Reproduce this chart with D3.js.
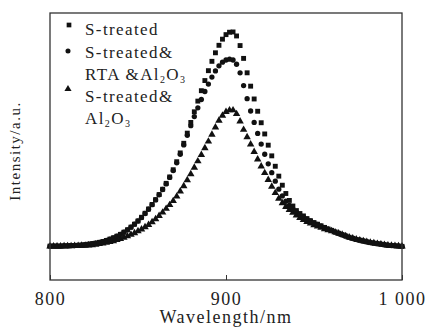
<!DOCTYPE html>
<html><head><meta charset="utf-8">
<script src="https://cdn.jsdelivr.net/npm/d3@7"></script>
<style>
html,body{margin:0;padding:0;background:#fff;}
svg text{font-family:"Liberation Serif","DejaVu Serif",serif;fill:#222;}
</style></head>
<body><svg id="c" width="428" height="329"></svg>
<script>
const wavelengths = [800,802,804,806,808,810,812,814,816,818,
820,822,824,826,828,830,832,834,836,838,
840,842,844,846,848,850,852,854,856,858,
860,862,864,866,868,870,872,874,876,878,
880,882,884,886,888,890,892,894,896,898,
900,902,904,906,908,910,912,914,916,918,
920,922,924,926,928,930,932,934,936,938,
940,942,944,946,948,950,952,954,956,958,
960,962,964,966,968,970,972,974,976,978,
980,982,984,986,988,990,992,994,996,998,1000];

const sTreated = [12.7,12.7,12.7,12.7,12.8,12.8,12.9,12.9,13.0,13.1,
13.2,13.4,13.6,13.8,14.1,14.4,14.8,15.3,15.8,16.4,
17.1,17.9,18.8,19.8,20.9,22.1,23.5,25.0,26.6,28.3,
30.1,32.0,34.0,36.2,38.6,41.3,44.3,47.6,51.2,55.0,
59.0,63.0,67.0,70.9,74.7,78.4,81.9,85.1,87.9,90.2,
91.9,92.8,92.9,91.4,87.8,83.0,77.6,72.6,67.8,63.2,
58.9,54.7,50.5,46.5,42.6,38.9,35.5,32.4,29.8,27.7,
26.0,24.9,24.0,23.0,22.2,21.5,20.9,20.3,19.7,19.1,
18.6,18.0,17.5,17.0,16.5,16.0,15.6,15.2,14.9,14.6,
14.3,14.0,13.8,13.6,13.4,13.2,13.0,12.9,12.8,12.7,12.6];

const sTreatedRtaAl2O3 = [12.7,12.7,12.7,12.7,12.8,12.8,12.9,12.9,13.0,13.1,
13.2,13.4,13.6,13.8,14.1,14.4,14.8,15.3,15.8,16.4,
17.1,17.9,18.8,19.8,20.9,22.1,23.4,24.9,26.5,28.2,
30.0,31.9,33.9,36.0,38.4,41.0,43.9,47.1,50.6,54.2,
57.8,61.2,64.5,67.6,70.6,73.4,76.0,78.3,80.2,81.6,
82.4,82.7,82.4,80.8,77.6,72.8,67.9,63.3,59.0,54.9,
50.9,47.1,43.5,40.2,37.0,34.0,31.5,29.5,27.9,26.6,
25.4,24.4,23.6,22.8,22.1,21.4,20.8,20.2,19.6,19.0,
18.5,17.9,17.4,16.9,16.4,16.0,15.6,15.2,14.9,14.6,
14.3,14.0,13.8,13.6,13.4,13.2,13.0,12.9,12.8,12.7,12.6];

const sTreatedAl2O3 = [12.6,12.6,12.6,12.6,12.7,12.7,12.7,12.8,12.8,12.9,
12.9,13.0,13.1,13.3,13.5,13.7,14.0,14.3,14.6,15.0,
15.4,15.9,16.4,17.0,17.6,18.3,19.0,19.8,20.7,21.7,
22.8,24.0,25.3,26.7,28.1,29.6,31.3,33.2,35.2,37.4,
39.7,42.1,44.5,46.9,49.4,51.9,54.5,57.2,59.7,61.6,
63.0,63.6,63.6,62.2,59.4,56.3,53.5,50.8,48.0,45.2,
42.6,40.1,37.5,35.0,32.6,30.5,28.8,27.4,26.3,25.2,
24.2,23.3,22.5,21.8,21.2,20.6,20.1,19.6,19.1,18.7,
18.3,17.9,17.5,17.0,16.5,16.0,15.6,15.2,14.9,14.6,
14.3,14.0,13.8,13.6,13.4,13.2,13.0,12.9,12.8,12.7,12.6];

const xTicks = [800, 900, 1000];
const xTickLabels = ["800", "900", "1 000"];
const xTitle = "Wavelength/nm";
const yTitle = "Intensity/a.u.";

const svg = d3.select("#c");
const L = 50, R = 402, T = 13, B = 280;
const x = d3.scaleLinear().domain([800, 1000]).range([L, R]);
const y = d3.scaleLinear().domain([0, 100]).range([B, T]);

const series = [
  {name: "S-treated", values: sTreated, sym: d3.symbolSquare, size: 24},
  {name: "S-treated&RTA&Al2O3", values: sTreatedRtaAl2O3, sym: d3.symbolCircle, size: 22},
  {name: "S-treated&Al2O3", values: sTreatedAl2O3, sym: d3.symbolTriangle, size: 24}
];

// data markers
series.slice().reverse().forEach(s => {
  const g = svg.append("g");
  g.selectAll("path").data(wavelengths.map((w, i) => [w, s.values[i]]))
    .enter().append("path")
    .attr("d", d3.symbol().type(s.sym).size(s.size)())
    .attr("transform", d => `translate(${x(d[0])},${y(d[1])})`)
    .attr("fill", "#111");
});

// frame
svg.append("rect").attr("x", L).attr("y", T).attr("width", R - L).attr("height", B - T)
  .attr("fill", "none").attr("stroke", "#333").attr("stroke-width", 1.3);

// x axis
const xAxis = d3.axisBottom(x).tickValues(xTicks).tickSize(-5)
  .tickFormat((d, i) => xTickLabels[i]).tickPadding(12);
const ax = svg.append("g").attr("transform", `translate(0,${B})`).call(xAxis);
ax.select(".domain").remove();
ax.selectAll(".tick line").attr("stroke", "#333");
ax.selectAll(".tick text").attr("font-size", 18).attr("letter-spacing", 1.5)
  .attr("font-family", "Liberation Serif").attr("fill", "#222");

svg.append("text").attr("x", 226).attr("y", 323).attr("text-anchor", "middle")
  .attr("font-size", 18).attr("letter-spacing", 1.5).text(xTitle);

svg.append("text").attr("transform", "translate(20,151) rotate(-90)")
  .attr("text-anchor", "middle").attr("font-size", 15).attr("letter-spacing", 1.5)
  .attr("fill", "#444").text(yTitle);

// legend
const legend = svg.append("g");
const legItems = [
  {sym: d3.symbolSquare, size: 22, mx: 69, my: 25, lines: [[{t: "S-treated"}]], ty: 35},
  {sym: d3.symbolCircle, size: 20, mx: 68, my: 51, lines: [[{t: "S-treated&"}], [{t: "RTA &Al"}, {t: "2", sub: true}, {t: "O"}, {t: "3", sub: true}]], ty: 58},
  {sym: d3.symbolTriangle, size: 22, mx: 68, my: 89, lines: [[{t: "S-treated&"}], [{t: "Al"}, {t: "2", sub: true}, {t: "O"}, {t: "3", sub: true}]], ty: 102}
];
legItems.forEach(it => {
  legend.append("path").attr("d", d3.symbol().type(it.sym).size(it.size)())
    .attr("transform", `translate(${it.mx},${it.my})`).attr("fill", "#111");
  it.lines.forEach((ln, li) => {
    const t = legend.append("text").attr("x", 85).attr("y", it.ty + li * 22)
      .attr("font-size", 17).attr("letter-spacing", 1.4);
    ln.forEach(p => {
      const ts = t.append("tspan").text(p.t);
      if (p.sub) ts.attr("font-size", 10).attr("dy", 3);
      else if (t.selectAll("tspan").size() > 1) ts.attr("dy", -3);
    });
  });
});
</script>
</body></html>
